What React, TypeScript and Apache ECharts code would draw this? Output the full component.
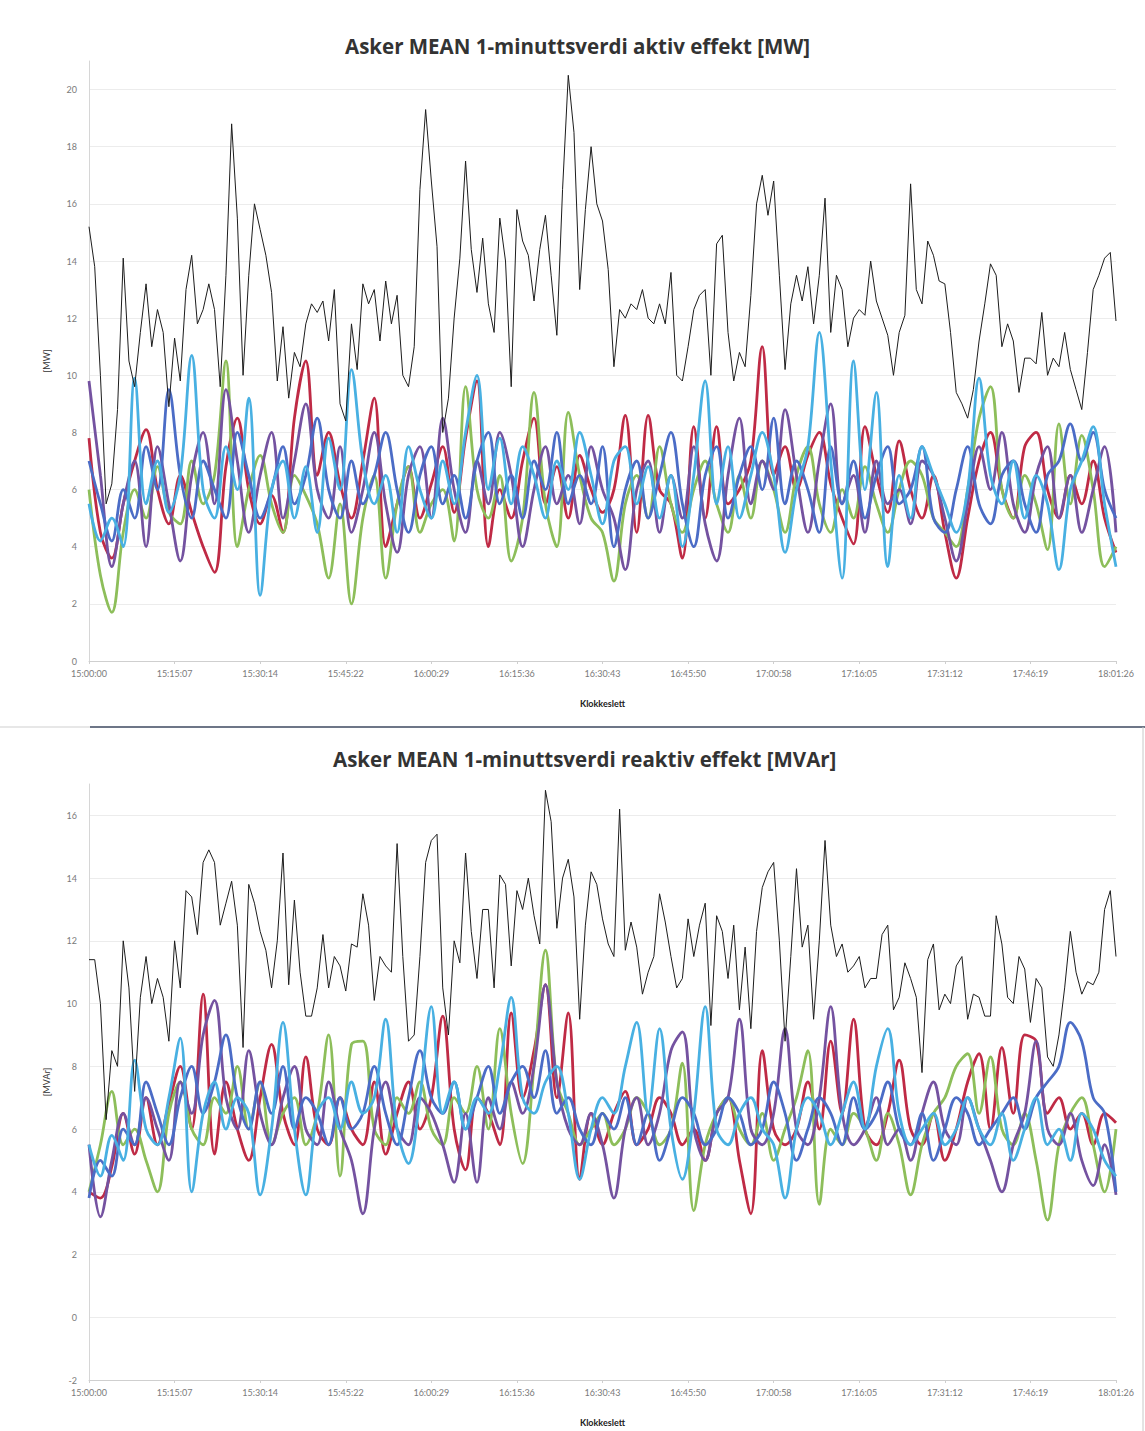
import React, { useEffect, useRef } from "react";
import * as echarts from "echarts";

const tickLabels = ["15:00:00", "15:15:07", "15:30:14", "15:45:22", "16:00:29", "16:15:36", "16:30:43", "16:45:50", "17:00:58", "17:16:05", "17:31:12", "17:46:19", "18:01:26"];

// minute index step of each series
const blackStep = 1;
const colorStep = 2;

// ---- Aktiv effekt [MW] ----
const topBlack = [
  15.2, 13.8, 10.0, 5.5, 6.2, 8.8, 14.1, 10.5, 9.6, 11.5,
  13.2, 11.0, 12.3, 11.5, 8.9, 11.3, 9.8, 13.0, 14.2, 11.8,
  12.3, 13.2, 12.3, 9.6, 13.5, 18.8, 15.5, 10.0, 13.5, 16.0,
  15.1, 14.2, 12.9, 9.8, 11.7, 9.2, 10.8, 10.3, 11.8, 12.5,
  12.2, 12.6, 11.2, 13.0, 9.0, 8.4, 11.8, 10.2, 13.2, 12.5,
  13.0, 11.2, 13.3, 11.8, 12.8, 10.0, 9.6, 11.0, 16.5, 19.3,
  16.8, 14.5, 8.0, 9.2, 12.0, 14.1, 17.5, 14.4, 12.9, 14.8,
  12.5, 11.5, 15.5, 14.0, 9.6, 15.8, 14.7, 14.2, 12.6, 14.4,
  15.6, 13.5, 11.4, 16.5, 20.5, 18.5, 13.0, 15.8, 18.0, 16.0,
  15.4, 13.7, 10.3, 12.3, 12.0, 12.5, 12.3, 13.0, 12.0, 11.8,
  12.5, 11.8, 13.6, 10.0, 9.8, 11.0, 12.3, 12.8, 13.0, 10.0,
  14.6, 14.9, 11.5, 9.8, 10.8, 10.3, 12.8, 16.0, 17.0, 15.6,
  16.8, 13.5, 10.2, 12.5, 13.5, 12.6, 13.8, 11.8, 13.5, 16.2,
  11.5, 13.5, 13.0, 11.0, 12.0, 12.3, 12.1, 14.0, 12.6, 12.0,
  11.4, 10.0, 11.5, 12.1, 16.7, 13.0, 12.5, 14.7, 14.2, 13.3,
  13.2, 11.5, 9.4, 9.0, 8.5, 9.5, 11.2, 12.5, 13.9, 13.5,
  11.0, 11.8, 11.2, 9.4, 10.6, 10.6, 10.4, 12.2, 10.0, 10.6,
  10.3, 11.5, 10.2, 9.5, 8.8, 10.8, 13.0, 13.5, 14.1, 14.3,
  11.9
];
const topRed = [
  7.8, 4.5, 3.6, 5.5, 7.0, 8.1, 6.0, 4.8, 6.5, 5.2,
  4.0, 3.1, 6.8, 8.5, 6.0, 4.8, 5.8, 4.5, 8.5, 10.5,
  6.5, 8.0, 6.2, 5.0, 7.0, 9.2, 4.0, 5.5, 6.8, 5.0,
  6.2, 7.5, 5.2, 7.8, 9.8, 4.0, 6.0, 5.0, 7.0, 8.5,
  5.5, 6.8, 5.0, 7.2, 6.0, 5.2, 6.0, 8.6, 4.5, 8.6,
  6.0, 5.5, 3.6, 8.2, 5.0, 8.2, 5.5, 6.0, 7.0, 11.0,
  6.5, 7.5, 6.0, 7.2, 8.0, 6.2, 5.0, 4.1, 8.2, 6.5,
  5.2, 7.7, 6.0, 5.0, 6.5, 4.5, 2.9, 5.0, 7.0, 8.0,
  6.0, 5.0, 7.5, 8.0, 6.0, 5.0, 6.5, 5.5, 7.0, 5.0,
  3.8
];
const topGreen = [
  6.0, 3.0, 1.7, 4.5, 6.0, 5.0, 6.8, 5.2, 4.8, 7.0,
  5.5, 6.5, 10.5, 4.0, 6.0, 7.2, 5.5, 4.5, 6.5, 5.8,
  4.8, 2.9, 5.5, 2.0, 5.0, 6.5, 2.9, 5.5, 6.8, 4.5,
  5.5, 6.0, 4.2, 9.6, 6.0, 5.0, 6.5, 3.5, 5.0, 9.4,
  5.5, 4.0, 8.7, 6.5, 5.0, 4.5, 2.8, 5.5, 6.5, 5.0,
  7.5, 5.5, 4.5, 6.0, 7.0, 5.5, 4.5, 6.5, 5.0, 7.0,
  6.0, 4.5, 6.5, 7.5, 5.5, 4.5, 6.0, 5.0, 6.8, 5.5,
  4.5, 6.0, 7.0, 6.5, 5.0, 4.5, 4.0, 6.0, 8.5, 9.6,
  6.0, 5.0, 6.5, 5.5, 3.9, 8.3, 5.5, 7.9, 6.0, 3.3,
  4.0
];
const topPurple = [
  9.8, 6.5, 3.3, 5.5, 7.0, 4.0, 7.5, 5.5, 3.5, 6.5,
  8.0, 5.5, 9.5, 7.0, 4.5, 6.5, 8.0, 5.0, 7.0, 9.0,
  6.0, 5.0, 7.5, 4.5, 6.0, 8.0, 5.5, 3.8, 6.5, 7.5,
  5.0, 8.5, 6.0, 4.5, 7.0, 5.5, 8.0, 6.5, 4.0, 6.0,
  7.5, 5.5, 6.5, 4.8, 7.5, 6.0, 5.0, 3.2, 6.0, 7.0,
  4.5, 6.5, 5.0, 7.5, 4.8, 3.5, 6.5, 8.5, 5.5, 7.0,
  6.0, 8.8, 6.5, 4.5, 7.0, 9.0, 5.5, 6.5, 4.5, 7.0,
  5.5, 6.0, 4.8, 7.0, 6.5, 5.0, 3.5, 5.5, 7.5, 6.0,
  8.0, 5.5, 4.5, 6.5, 7.5, 5.0, 6.5, 4.5, 6.0, 7.5,
  4.5
];
const topBlue = [
  7.0, 5.5, 4.2, 6.0, 5.0, 7.5, 6.0, 9.5, 6.5, 5.0,
  7.0, 6.0, 5.0, 8.0, 6.5, 5.0, 6.0, 7.5, 5.5, 6.5,
  8.5, 6.0, 5.0, 7.0, 5.5, 6.5, 8.0, 6.0, 4.5, 6.5,
  7.5, 5.5, 6.5, 5.0, 7.0, 8.0, 5.5, 6.5, 5.0, 7.0,
  6.0, 8.0, 5.5, 6.5, 5.5, 7.5, 4.0, 6.0, 7.0, 5.0,
  6.5, 8.0, 5.5, 4.0, 6.5, 7.5, 5.0, 6.5, 7.5, 6.0,
  8.5, 5.5, 7.0, 6.0, 4.5, 7.5, 5.5, 7.0, 5.0, 6.5,
  7.5, 5.5, 6.0, 7.5, 5.0, 4.5, 6.0, 7.5, 5.5, 4.8,
  6.5, 7.0, 5.5, 4.5, 6.5, 7.0, 8.3, 7.0, 8.0, 6.0,
  5.0
];
const topCyan = [
  5.5, 4.2, 5.0, 4.0, 9.9, 5.5, 7.0, 5.2, 6.5, 10.7,
  6.0, 5.0, 7.5, 6.0, 9.2, 2.3, 6.0, 7.0, 5.0, 6.8,
  4.5, 7.8, 6.0, 10.2, 7.0, 5.5, 6.5, 4.5, 7.5, 6.0,
  5.0, 7.0, 5.5, 8.0, 10.0, 6.0, 7.8, 5.5, 7.5, 6.5,
  5.0, 7.0, 6.0, 8.0, 6.5, 4.8, 7.0, 7.5, 5.5, 6.8,
  5.0, 6.5, 4.0, 6.5, 9.8, 5.5, 7.5, 5.0, 6.5, 8.0,
  6.5, 3.8, 6.0, 7.5, 11.5, 7.0, 2.9, 10.5, 6.0, 9.4,
  3.3, 6.5, 5.0, 7.5, 6.5, 5.5, 4.5, 6.0, 9.9, 6.5,
  5.5, 7.0, 5.0, 6.5, 5.5, 3.2, 6.0, 7.0, 8.2, 5.5,
  3.3
];

// ---- Reaktiv effekt [MVAr] ----
const botBlack = [
  11.4, 11.4, 10.0, 6.3, 8.5, 8.0, 12.0, 10.5, 7.2, 10.2,
  11.5, 10.0, 10.8, 10.2, 8.8, 12.0, 10.5, 13.6, 13.4, 12.2,
  14.5, 14.9, 14.5, 12.5, 13.2, 13.9, 12.5, 8.6, 13.8, 13.2,
  12.3, 11.7, 10.5, 12.0, 14.8, 10.6, 13.3, 11.0, 9.6, 9.6,
  10.5, 12.2, 10.5, 11.5, 11.2, 10.4, 11.9, 11.8, 13.5, 12.5,
  10.1, 11.5, 11.2, 11.0, 15.1, 11.5, 8.8, 9.0, 11.5, 14.5,
  15.2, 15.4, 10.5, 9.0, 12.0, 11.3, 14.8, 12.3, 10.8, 13.0,
  13.0, 10.5, 14.1, 13.8, 11.2, 13.6, 13.0, 14.0, 12.8, 11.9,
  16.8, 15.8, 12.4, 14.0, 14.6, 13.4, 9.5, 12.5, 14.2, 13.8,
  12.7, 11.9, 11.5, 16.2, 11.7, 12.6, 11.8, 10.3, 11.0, 11.5,
  13.5, 12.6, 11.5, 10.5, 10.8, 12.7, 11.5, 12.5, 13.2, 9.3,
  12.8, 12.3, 10.8, 12.5, 9.8, 11.8, 9.2, 12.3, 13.7, 14.2,
  14.5, 12.0, 8.8, 11.5, 14.3, 11.8, 12.5, 9.5, 12.0, 15.2,
  12.5, 11.5, 11.9, 11.0, 11.2, 11.5, 10.5, 10.8, 10.8, 12.2,
  12.5, 9.8, 10.2, 11.3, 10.8, 10.2, 7.8, 11.4, 11.9, 9.8,
  10.3, 10.0, 11.2, 11.5, 9.5, 10.3, 10.2, 9.6, 9.6, 12.8,
  11.9, 10.2, 10.0, 11.5, 11.1, 9.4, 10.8, 10.5, 8.3, 8.0,
  9.0, 10.5, 12.3, 11.0, 10.3, 10.7, 10.6, 11.0, 13.0, 13.6,
  11.5
];
const botRed = [
  4.0, 3.8, 4.8, 6.5, 5.2, 7.0, 5.5, 6.8, 8.0, 6.0,
  10.3, 5.2, 7.5, 6.0, 5.0, 7.0, 8.7, 6.5, 5.5, 8.3,
  6.0, 5.5, 7.0, 6.0, 5.5, 7.5, 5.2, 6.5, 7.5, 6.0,
  7.0, 9.6, 6.0, 4.7, 7.0, 6.5, 5.5, 9.7, 7.0, 8.5,
  10.6, 7.0, 9.7, 4.4, 6.5, 5.5, 6.5, 7.2, 5.5, 6.0,
  7.0, 6.5, 5.5, 6.0, 5.0, 6.5, 7.0, 5.0, 3.3, 8.5,
  6.0, 5.5, 6.0, 7.5, 6.0, 8.8, 6.5, 9.5, 6.0, 5.5,
  6.5, 8.2, 6.0, 5.5, 6.5, 5.0, 6.0, 7.5, 8.4, 6.0,
  8.6, 6.5, 9.0, 8.8, 6.5, 7.0, 6.0, 6.5, 5.5, 6.5,
  6.2
];
const botGreen = [
  4.0, 5.5, 7.2, 5.5, 6.0, 5.0, 4.0, 6.5, 7.5, 6.0,
  5.5, 7.0, 6.5, 8.0, 6.0, 7.5, 5.5, 6.5, 7.0, 5.5,
  6.5, 9.0, 4.5, 8.7, 8.8, 6.0, 5.5, 7.0, 6.5, 7.5,
  6.0, 5.5, 7.0, 6.5, 8.0, 6.0, 9.2, 6.5, 4.9, 8.0,
  11.7, 7.5, 6.5, 5.5, 6.0, 6.5, 5.5, 6.0, 7.0, 6.5,
  5.5, 6.0, 8.1, 3.4, 5.5, 6.5, 7.0, 6.0, 5.5, 6.5,
  5.0, 6.0, 7.0, 8.5, 3.6, 6.0, 5.5, 6.5, 6.0, 5.0,
  6.5, 5.5, 3.9, 5.5, 6.5, 7.0, 8.0, 8.4, 6.5, 8.3,
  6.0, 5.5, 6.5, 5.0, 3.1, 5.5, 6.5, 7.0, 5.5, 4.0,
  6.0
];
const botPurple = [
  5.5, 3.2, 5.0, 6.5, 5.5, 7.0, 6.0, 5.0, 7.5, 6.5,
  9.0, 10.1, 7.0, 6.0, 8.5, 6.5, 5.5, 7.0, 8.0, 6.0,
  5.5, 7.5, 6.0, 5.0, 3.3, 6.0, 7.5, 6.0, 5.5, 7.0,
  6.5, 5.5, 4.3, 6.5, 4.3, 7.0, 6.0, 7.5, 6.5, 8.0,
  10.6, 7.5, 6.0, 5.5, 6.5, 5.5, 3.8, 6.0, 7.0, 5.5,
  6.5, 8.5, 9.1, 6.0, 5.0, 6.5, 7.0, 9.5, 6.0, 5.5,
  6.5, 9.2, 6.0, 5.5, 7.0, 9.9, 6.5, 5.5, 6.0, 7.0,
  5.5, 6.0, 5.0, 6.5, 7.5, 6.0, 5.5, 7.0, 6.0, 5.0,
  4.0, 5.5, 6.5, 8.8, 6.0, 5.5, 6.5, 5.0, 4.2, 5.5,
  3.9
];
const botBlue = [
  3.8, 5.0, 4.5, 6.0, 5.5, 7.5, 6.5, 5.5, 7.0, 8.0,
  6.5, 7.5, 9.0, 7.0, 6.0, 7.5, 6.5, 8.0, 6.0, 7.0,
  6.5, 5.5, 7.0, 6.0, 6.5, 8.0, 6.5, 5.5, 7.0, 8.5,
  7.0, 6.5, 7.5, 6.0, 7.0, 8.0, 6.5, 7.5, 8.0, 7.0,
  8.5, 6.5, 7.0, 6.0, 5.5, 6.5, 6.0, 7.0, 5.5, 6.5,
  5.0, 6.0, 7.0, 6.5, 5.5, 6.0, 7.0, 6.5, 5.5, 6.0,
  7.5, 6.5, 5.0, 6.0, 7.0, 6.5, 5.5, 7.0, 6.0, 6.5,
  7.5, 6.0, 5.5, 6.5, 5.0, 6.0, 7.0, 6.5, 5.5, 6.0,
  6.5, 7.0, 6.0, 7.0, 7.5, 8.0, 9.4, 8.8, 7.0, 6.5,
  4.0
];
const botCyan = [
  5.5, 4.5, 5.8, 5.0, 8.2, 6.0, 5.5, 7.0, 8.9, 4.0,
  6.5, 7.5, 6.0, 7.0, 6.5, 3.9, 6.0, 9.4, 6.0, 3.9,
  6.5, 7.0, 6.0, 7.5, 6.5, 7.0, 9.5, 6.0, 4.9, 7.0,
  9.9, 6.5, 7.5, 6.0, 7.0, 6.5, 8.0, 10.2, 7.0, 6.5,
  7.5, 8.0, 6.5, 4.4, 6.0, 7.0, 6.5, 8.0, 9.4, 6.5,
  9.2, 6.0, 4.4, 6.5, 9.9, 6.0, 5.5, 6.5, 7.0, 6.0,
  5.5, 3.8, 6.0, 7.0, 6.5, 5.5, 6.5, 7.5, 6.0, 8.0,
  9.2, 6.5, 5.5, 6.0, 6.5, 5.5, 6.0, 7.0, 6.0, 5.5,
  6.5, 5.0, 6.0, 7.0, 5.5, 6.0, 5.0, 6.5, 6.0, 5.0,
  4.5
];

const COLORS = {
  black: "#1c1c1c",
  red: "#BF2A45",
  green: "#8DBE5A",
  purple: "#7452A0",
  blue: "#4B6CC6",
  cyan: "#48B0E2",
};

const axisLabelStyle = { color: "#7a7a7a", fontSize: 9, fontFamily: "Lato" };

function makeSeries(idx: number, list: { values: number[]; step: number; color: string; width: number; smooth: number | boolean; z: number }[]) {
  return list.map((s) => ({
    type: "line",
    xAxisIndex: idx,
    yAxisIndex: idx,
    data: s.values.map((v, k) => [k * s.step, v]),
    showSymbol: false,
    smooth: s.smooth,
    lineStyle: { color: s.color, width: s.width },
    itemStyle: { color: s.color },
    z: s.z,
    silent: true,
  }));
}

function xAxisFor(idx: number) {
  return {
    type: "value",
    gridIndex: idx,
    min: 0,
    max: 180,
    interval: 15,
    name: "Klokkeslett",
    nameLocation: "middle",
    nameGap: 38,
    nameTextStyle: { color: "#222", fontSize: 9, fontWeight: "bold", fontFamily: "Lato" },
    axisLine: { onZero: false, lineStyle: { color: "#cfcfcf", width: 1 } },
    axisTick: { show: true, length: 3, lineStyle: { color: "#cfcfcf" } },
    splitLine: { show: false },
    axisLabel: {
      ...axisLabelStyle,
      margin: 8,
      formatter: (v: number) => tickLabels[Math.round(v / 15)] ?? "",
    },
  };
}

function yAxisFor(idx: number, min: number, max: number, name: string) {
  return {
    type: "value",
    gridIndex: idx,
    min,
    max,
    interval: 2,
    name,
    nameLocation: "middle",
    nameGap: 38,
    nameRotate: 90,
    nameTextStyle: { color: "#333", fontSize: 9, fontFamily: "Lato" },
    axisLine: { show: true, lineStyle: { color: "#d6d6d6", width: 1 } },
    axisTick: { show: false },
    splitLine: { show: true, showMaxLine: false, lineStyle: { color: "#ececec", width: 1 } },
    axisLabel: { ...axisLabelStyle, margin: 12, showMaxLabel: false },
  };
}

export default function App() {
  const ref = useRef<HTMLDivElement>(null);
  useEffect(() => {
    if (!ref.current) return;
    const chart = echarts.init(ref.current, undefined, { renderer: "svg" });
    const colorWidth = 2.8;
    const topList = [
      { values: topRed, step: colorStep, color: COLORS.red, width: colorWidth, smooth: 0.35, z: 2 },
      { values: topGreen, step: colorStep, color: COLORS.green, width: colorWidth, smooth: 0.35, z: 2 },
      { values: topPurple, step: colorStep, color: COLORS.purple, width: colorWidth, smooth: 0.35, z: 2 },
      { values: topBlue, step: colorStep, color: COLORS.blue, width: colorWidth, smooth: 0.35, z: 2 },
      { values: topCyan, step: colorStep, color: COLORS.cyan, width: colorWidth, smooth: 0.35, z: 2 },
      { values: topBlack, step: blackStep, color: COLORS.black, width: 1, smooth: false, z: 3 },
    ];
    const botList = [
      { values: botRed, step: colorStep, color: COLORS.red, width: colorWidth, smooth: 0.35, z: 2 },
      { values: botGreen, step: colorStep, color: COLORS.green, width: colorWidth, smooth: 0.35, z: 2 },
      { values: botPurple, step: colorStep, color: COLORS.purple, width: colorWidth, smooth: 0.35, z: 2 },
      { values: botBlue, step: colorStep, color: COLORS.blue, width: colorWidth, smooth: 0.35, z: 2 },
      { values: botCyan, step: colorStep, color: COLORS.cyan, width: colorWidth, smooth: 0.35, z: 2 },
      { values: botBlack, step: blackStep, color: COLORS.black, width: 1, smooth: false, z: 3 },
    ];
    chart.setOption({
      animation: false,
      backgroundColor: "#ffffff",
      title: [
        {
          text: "Asker MEAN 1-minuttsverdi aktiv effekt [MW]",
          left: 340,
          top: 30,
          textStyle: { color: "#333333", fontSize: 20.5, fontWeight: "bold", fontFamily: "Open Sans" },
        },
        {
          text: "Asker MEAN 1-minuttsverdi reaktiv effekt [MVAr]",
          left: 328,
          top: 743,
          textStyle: { color: "#333333", fontSize: 20.5, fontWeight: "bold", fontFamily: "Open Sans" },
        },
      ],
      grid: [
        { left: 89, right: 29, top: 61, bottom: 770, containLabel: false },
        { left: 89, right: 29, top: 784, bottom: 51, containLabel: false },
      ],
      xAxis: [xAxisFor(0), xAxisFor(1)],
      yAxis: [yAxisFor(0, 0, 21, "[MW]"), yAxisFor(1, -2, 17, "[MVAr]")],
      series: [...makeSeries(0, topList), ...makeSeries(1, botList)],
      graphic: [
        { type: "line", shape: { x1: 0, y1: 727, x2: 90, y2: 727 }, style: { stroke: "#cfcfcf", lineWidth: 1 } },
        { type: "line", shape: { x1: 90, y1: 727, x2: 1145, y2: 727 }, style: { stroke: "#6d7687", lineWidth: 2 } },
        { type: "line", shape: { x1: 1143, y1: 727, x2: 1143, y2: 1431 }, style: { stroke: "#c8c8c8", lineWidth: 1 } },
      ],
    });
    return () => chart.dispose();
  }, []);
  return (
    <div
      ref={ref}
      style={{ position: "absolute", left: 0, top: 0, width: 1145, height: 1431, background: "#fff" }}
    />
  );
}
